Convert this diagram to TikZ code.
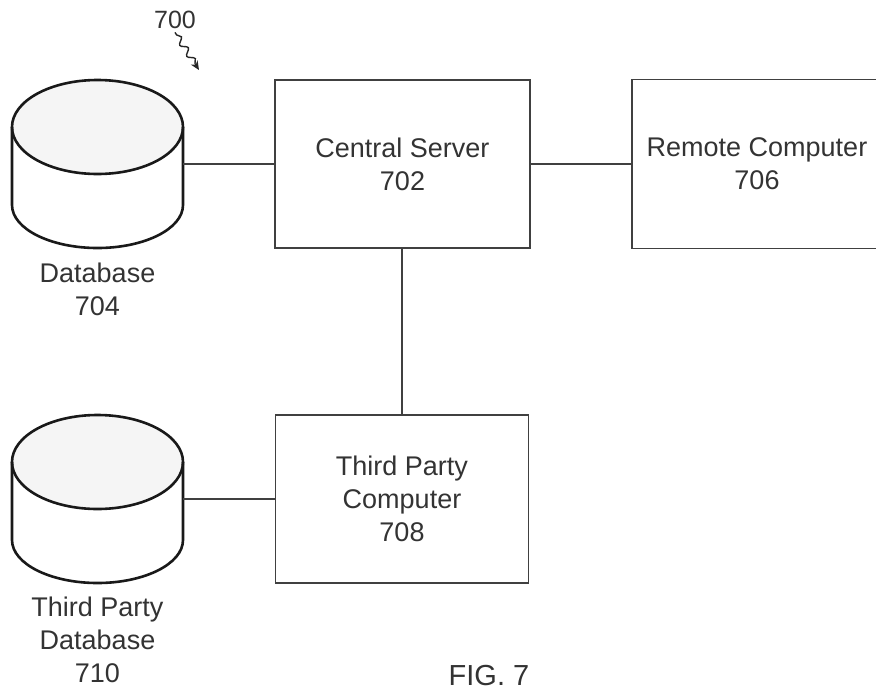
\documentclass[tikz,border=0pt]{standalone}
\usepackage{fontspec}
\setmainfont{Liberation Sans}
\usetikzlibrary{decorations.pathmorphing,arrows.meta}
\begin{document}
\begin{tikzpicture}[x=1pt,y=-1pt,
  box/.style={draw=black!75, line width=1.6pt, align=center, inner sep=0pt,
    font=\fontsize{27}{33}\selectfont, text=black!80},
  link/.style={draw=black!75, line width=1.6pt},
  cyl/.style={draw=black!90, line width=2.6pt},
  lbl/.style={align=center, font=\fontsize{27}{33}\selectfont, text=black!80, inner sep=0pt},
  dbarea/.style={inner sep=0pt, minimum width=171pt, minimum height=168pt},
  dbcyl/.pic={
    \fill[gray!8] (0,-37) ellipse [x radius=85.5, y radius=47];
    \draw[cyl] (0,-37) ellipse [x radius=85.5, y radius=47];
    \draw[cyl] (-85.5,-37) -- (-85.5,41)
      arc [start angle=180, end angle=0, x radius=85.5, y radius=43] -- (85.5,-37);
  }
]
\useasboundingbox (0,0) rectangle (876,691);

% databases
\pic at (97.5,164) {dbcyl};
\node[dbarea] (db1) at (97.5,164) {};
\pic at (97.5,499) {dbcyl};
\node[dbarea] (db2) at (97.5,499) {};
\node[lbl] (db1l) at (97.5,289) {Database\\704};
\node[lbl] (db2l) at (97.5,640) {Third Party\\Database\\710};

% boxes
\node[box, minimum width=255pt, minimum height=168pt] (cs) at (402.5,164) {Central Server\\702};
\node[box, minimum width=250pt, minimum height=169pt] (rc) at (757,164) {Remote Computer\\706};
\node[box, minimum width=253pt, minimum height=168pt] (tp) at (402,499) {Third Party\\Computer\\708};

% connectors
\draw[link] (db1.east) -- (cs.west);
\draw[link] (cs.east) -- (rc.west);
\draw[link] (cs.south -| tp.north) -- (tp.north);
\draw[link] (db2.east) -- (tp.west);

% reference numeral
\node[font=\fontsize{25}{30}\selectfont, text=black!80] (n700) at (175,20) {700};
\coordinate (a700) at (199,70);
\draw[black!85, line width=1.4pt, decorate,
  decoration={snake, amplitude=3pt, segment length=13pt, pre length=3pt, post length=7pt},
  -{Stealth[length=9pt,width=8pt]}] (n700.south) -- (a700);

% figure label
\node[font=\fontsize{29}{34}\selectfont, text=black!80] (fig) at (489,676) {FIG. 7};
\end{tikzpicture}
\end{document}
